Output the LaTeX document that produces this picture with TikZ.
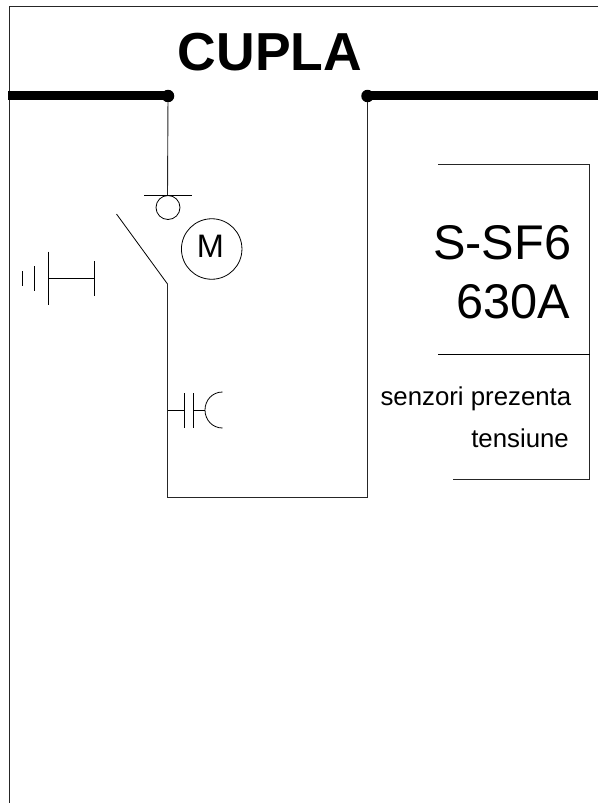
\documentclass[tikz,border=0pt]{standalone}
\usepackage{fontspec}
\setmainfont{Liberation Sans}
\tikzset{
  wire/.style={line width=0.9pt,color=black!85,line cap=butt},
  thin wire/.style={line width=0.8pt,color=black},
  bus/.style={line width=9pt,color=black,line cap=butt},
  junction/.style={circle,fill=black,draw=none,inner sep=0pt,minimum size=12.5pt},
  ring/.style={circle,draw=black,line width=0.8pt,inner sep=0pt},
  label text/.style={inner sep=0pt,text=black}
}
\newcommand{\fs}[1]{\fontsize{#1}{#1}\selectfont}
\begin{document}
\begin{tikzpicture}[x=1pt,y=-1pt]
\useasboundingbox (0,0) rectangle (598,803);
\fill[white] (0,0) rectangle (598,803);
% frame
\coordinate (fTR) at (598,6.5);
\coordinate (fTL) at (9.5,6.5);
\coordinate (fBL) at (9.5,803);
\draw[wire] (fTR) -- (fTL) -- (fBL);
% busbars
\node[junction] (jL) at (168,96) {};
\node[junction] (jR) at (367.5,96) {};
\coordinate (busL) at (8,95);
\coordinate (busR) at (598,95);
\draw[bus] (busL) -- (busL -| jL);
\draw[bus] (jR |- busR) -- (busR);
% title
\node[label text,anchor=base,font=\bfseries\fs{53.5}] (title) at (270,70) {CUPLA};
% main feeder
\coordinate (barC) at (167.5,195);
\coordinate (barL) at (144,195);
\coordinate (barR) at (192,195);
\draw[wire] (jL) -- (barC);
\draw[thin wire] (barL) -- (barR);
\node[ring,minimum size=24pt] (drive) at (168,207.5) {};
\node[ring,minimum size=60.5pt] (motor) at (211.7,249) {};
\node[label text,anchor=base,font=\fs{32.5}] (mlabel) at (210.5,257) {M};
% switch
\coordinate (swFree) at (116.5,214);
\coordinate (swPivot) at (167.5,284);
\coordinate (cornerBL) at (167.5,497);
\coordinate (cornerBR) at (367.5,497);
\draw[thin wire] (swFree) -- (swPivot);
\draw[wire,line join=miter] (swPivot) -- (cornerBL) -- (cornerBR) -- (jR);
% earthing
\coordinate (e1a) at (48,251.5);
\coordinate (e1b) at (48,305);
\coordinate (e2a) at (94.7,261);
\coordinate (e2b) at (94.7,296);
\coordinate (e3a) at (34.5,266);
\coordinate (e3b) at (34.5,291);
\coordinate (e4a) at (22.5,271);
\coordinate (e4b) at (22.5,286);
\coordinate (eL) at (48,278.5);
\coordinate (eR) at (94.7,278.5);
\draw[thin wire] (e1a) -- (e1b);
\draw[thin wire] (e2a) -- (e2b);
\draw[thin wire] (e3a) -- (e3b);
\draw[thin wire] (e4a) -- (e4b);
\draw[thin wire] (eL) -- (eR);
% capacitive sensor
\coordinate (c0) at (167.5,410);
\coordinate (c1) at (184.5,410);
\coordinate (c2) at (193.5,410);
\coordinate (c3) at (205,410);
\coordinate (p1a) at (184.5,393);
\coordinate (p1b) at (184.5,427.5);
\coordinate (p2a) at (193.5,393);
\coordinate (p2b) at (193.5,427.5);
\coordinate (arcT) at (222.5,392);
\coordinate (arcB) at (222.5,428);
\draw[thin wire] (c0) -- (c1);
\draw[thin wire] (p1a) -- (p1b);
\draw[thin wire] (p2a) -- (p2b);
\draw[thin wire] (c2) -- (c3);
\draw[thin wire] (arcT) .. controls (212.5,392) and (205,400) .. (c3) .. controls (205,420) and (212.5,428) .. (arcB);
% right table
\coordinate (tTL) at (438,164);
\coordinate (tTR) at (589.5,164);
\coordinate (tML) at (438,354.5);
\coordinate (tMR) at (589.5,354.5);
\coordinate (tBL) at (452.5,479);
\coordinate (tBR) at (589.5,479);
\draw[wire] (tTL) -- (tTR) -- (tBR) -- (tBL);
\draw[thin wire] (tML) -- (tMR);
\node[label text,anchor=base east,font=\fs{48.7}] (t1) at (571.5,259) {S-SF6};
\node[label text,anchor=base east,font=\fs{48.7}] (t2) at (570,318) {630A};
\node[label text,anchor=base east,font=\fs{25.8}] (t3) at (571.5,405) {senzori prezenta};
\node[label text,anchor=base east,font=\fs{25.8}] (t4) at (569,447) {tensiune};
\end{tikzpicture}
\end{document}
